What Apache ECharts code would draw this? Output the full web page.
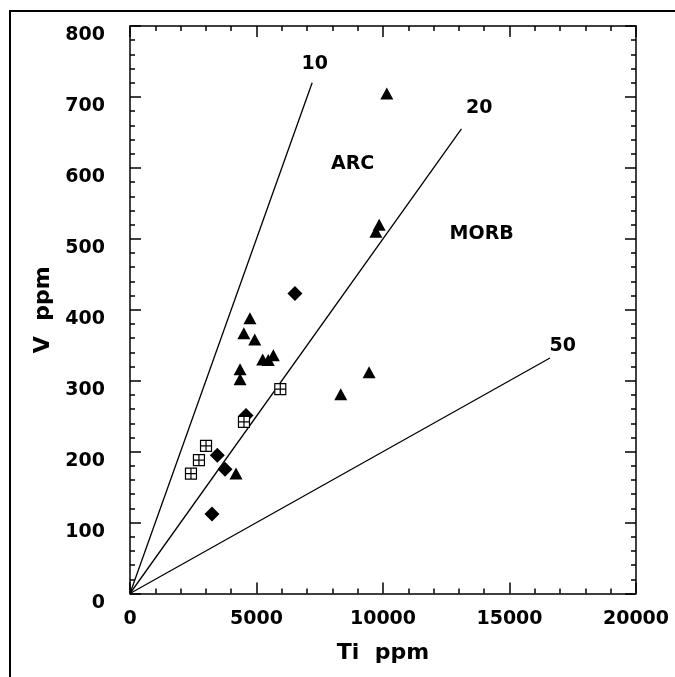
<!DOCTYPE html>
<html>
<head>
<meta charset="utf-8">
<script src="https://cdn.jsdelivr.net/npm/echarts@6/dist/echarts.min.js"></script>
<style>
html,body{margin:0;padding:0;background:#fff;}
#chart{width:675px;height:677px;}
</style>
</head>
<body>
<div id="chart"></div>
<script>
// Filled triangles [Ti, V]
const triangles = [
  [10150, 705], [9720, 510], [9850, 520],
  [4740, 388], [4500, 367], [4930, 358],
  [5245, 330], [5465, 329], [5665, 336],
  [4350, 316], [4350, 302], [4190, 169],
  [9450, 312], [8330, 281]
];
// Filled diamonds [Ti, V]
const diamonds = [
  [6520, 423], [4585, 251], [3450, 195], [3755, 175], [3240, 112]
];
// Open squares with cross [Ti, V]
const squares = [
  [5940, 288], [4505, 242], [3005, 208], [2725, 188], [2410, 169]
];
// Ti/V ratio reference lines: [ratio, end Ti]
const ratioLines = [
  [10, 7200], [20, 13100], [50, 16600]
];
// Annotation texts
const noteText = ['10', '20', '50', 'ARC', 'MORB'];
const noteTi   = [7300, 13800, 17100, 8800, 13900];
const noteV    = [746, 685, 349, 606, 506];
// Axis ticks
const xTicks = [0, 5000, 10000, 15000, 20000];
const yTicks = [0, 100, 200, 300, 400, 500, 600, 700, 800];

const FONT = 'DejaVu Sans';
const chart = echarts.init(document.getElementById('chart'), null, {renderer: 'canvas'});

function axisCommon() {
  return {
    axisLine: {show: true, onZero: false, lineStyle: {color: '#000', width: 1.5}},
    axisTick: {show: true, inside: true, length: 11, lineStyle: {color: '#000', width: 1.5}},
    minorTick: {show: true, splitNumber: 5, length: 5, lineStyle: {color: '#000', width: 1.5}},
    splitLine: {show: false},
    minorSplitLine: {show: false}
  };
}

const lineSeries = ratioLines.map(r => ({
  type: 'line',
  data: [[0, 0], [r[1], r[1] / r[0]]],
  symbol: 'none',
  silent: true,
  lineStyle: {color: '#000', width: 1.3},
  z: 2
}));

chart.setOption({
  animation: false,
  backgroundColor: '#fff',
  grid: {left: 130, right: 39, top: 26, bottom: 83.5, containLabel: false},
  graphic: [{
    type: 'rect',
    shape: {x: 10, y: 11, width: 700, height: 700},
    style: {fill: 'none', stroke: '#000', lineWidth: 2},
    silent: true
  }],
  xAxis: [
    Object.assign(axisCommon(), {
      type: 'value', min: 0, max: 20000, interval: 5000, position: 'bottom',
      name: 'Ti  ppm', nameLocation: 'middle', nameGap: 49,
      nameTextStyle: {fontFamily: FONT, fontWeight: 'bold', fontSize: 22, color: '#000'},
      axisLabel: {
        margin: 16, fontFamily: FONT, fontWeight: 'bold', fontSize: 19, color: '#000',
        formatter: v => xTicks.includes(v) ? String(v) : ''
      }
    }),
    Object.assign(axisCommon(), {
      type: 'value', min: 0, max: 20000, interval: 5000, position: 'top',
      axisLabel: {show: false}
    })
  ],
  yAxis: [
    Object.assign(axisCommon(), {
      type: 'value', min: 0, max: 800, interval: 100, position: 'left',
      name: 'V  ppm', nameLocation: 'middle', nameGap: 76,
      nameTextStyle: {fontFamily: FONT, fontWeight: 'bold', fontSize: 22, color: '#000'},
      axisLabel: {
        margin: 25, verticalAlign: 'top', fontFamily: FONT, fontWeight: 'bold', fontSize: 19, color: '#000',
        formatter: v => yTicks.includes(v) ? String(v) : ''
      }
    }),
    Object.assign(axisCommon(), {
      type: 'value', min: 0, max: 800, interval: 100, position: 'right',
      axisLabel: {show: false}
    })
  ],
  series: lineSeries.concat([
    {
      type: 'scatter', data: triangles, symbol: 'triangle', symbolSize: [13, 12],
      itemStyle: {color: '#000', opacity: 1}, z: 5
    },
    {
      type: 'scatter', data: diamonds, symbol: 'diamond', symbolSize: [15, 15],
      itemStyle: {color: '#000', opacity: 1}, z: 5
    },
    {
      type: 'scatter', data: squares,
      symbol: 'path://M0,0H10V10H0Z M5,0V10 M0,5H10', symbolSize: [11, 11],
      itemStyle: {color: '#fff', borderColor: '#000', borderWidth: 1.2, opacity: 1}, z: 6
    },
    {
      type: 'scatter', symbolSize: 0, silent: true,
      data: noteText.map((t, i) => ({value: [noteTi[i], noteV[i]], name: t})),
      itemStyle: {opacity: 1},
      label: {
        show: true, position: 'inside', formatter: p => p.name,
        fontFamily: FONT, fontWeight: 'bold', fontSize: 19, color: '#000'
      },
      z: 7
    }
  ])
});
</script>
</body>
</html>
